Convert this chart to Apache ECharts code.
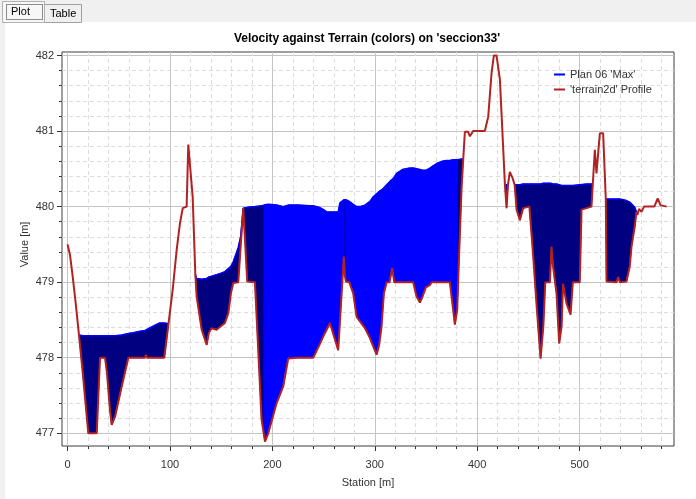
<!DOCTYPE html>
<html><head><meta charset="utf-8">
<script src="https://cdn.jsdelivr.net/npm/echarts@6/dist/echarts.min.js"></script>
<style>html,body{margin:0;padding:0;background:#fff}#c{width:696px;height:499px}</style>
</head><body><div id="c"></div>
<script>
// ---- data ----
const stations = [0,2.4,5.0,8.0,11.2,15.0,20.3,28.5,31.7,36.6,38.5,41.5,43.1,46.4,52.9,59.4,64.0,70.8,75.6,76.5,77.5,84.0,90.0,94.5,98.6,
102.7,106.6,109.8,112.5,116.3,117.9,119.6,122.2,124.8,126.1,131.0,135.9,138.0,140.7,145.6,150.0,153.7,157.0,159.5,161.8,166.7,169.0,171.6,
175.5,183.0,189.5,191.8,192.8,196.0,204.2,210.6,215.5,225.0,236.7,239.9,246.0,250.0,253.0,256.2,264.3,266.0,269.8,270.9,271.8,275.1,279.0,
282.3,285.5,290.4,295.3,298.5,301.8,304.3,306.6,308.9,311.6,314.5,317.0,319.0,321.3,327.0,334.3,337.5,340.8,344.1,346.7,349.9,353.8,355.5,
360.4,366.0,370.1,373.3,375.0,378.2,380.5,381.0,382.2,384.8,386.4,388.0,391.2,392.9,396.1,407.5,410.8,414.0,416.3,418.9,422.2,423.8,
427.1,428.7,430.1,431.9,434.5,436.6,438.5,441.7,444.9,451.0,454.7,458.0,461.9,464.6,466.5,471.0,472.6,474.2,477.5,480.1,482.4,483.9,
487.2,491.2,493.4,500.2,501.9,506.8,511.6,512.9,514.9,516.5,519.8,523.0,525.6,526.3,536.1,537.7,539.3,545.8,549.0,550.7,553.9,555.5,
556.5,558.0,560.4,563.0,573.0,576.3,579.0,585.0];

const terrain = [479.50,479.36,479.08,478.72,478.30,477.78,477.00,477.00,478.00,478.00,477.80,477.30,477.11,477.22,477.62,478.00,478.00,478.00,478.00,478.04,478.00,478.00,478.00,478.00,478.45,
478.90,479.43,479.78,479.98,480.00,480.82,480.82,480.13,479.10,478.81,478.37,478.17,478.33,478.39,478.37,478.42,478.46,478.59,478.85,478.99,479.00,479.46,479.98,
479.01,479.00,477.18,476.98,476.89,477.00,477.40,477.62,477.99,478.00,478.00,478.00,478.17,478.29,478.37,478.46,478.10,478.48,479.34,479.08,479.01,479.00,478.85,
478.54,478.48,478.39,478.26,478.15,478.04,478.17,478.41,478.85,479.00,479.00,479.19,479.00,479.00,479.00,479.00,479.00,478.81,478.73,478.81,478.93,478.96,479.00,
479.00,479.00,479.00,479.00,478.81,478.44,478.63,478.83,479.30,480.26,480.63,480.99,480.99,480.93,481.00,481.00,481.19,481.76,482.00,482.00,481.68,481.66,
480.29,479.98,480.29,480.46,480.38,480.29,479.96,479.82,479.98,480.00,479.35,478.70,477.99,478.41,479.00,479.00,479.47,479.20,478.85,478.19,478.41,478.98,
478.72,478.57,479.00,479.00,479.96,479.98,480.00,480.30,480.75,480.44,480.97,480.97,480.10,479.01,479.00,479.07,479.00,479.01,479.21,479.47,479.74,479.93,
479.89,479.97,479.93,480.00,480.00,480.11,480.02,480.00];

// water surface of Plan 06 'Max' (null = dry)
const waterSurface = [null,null,null,null,478.30,478.29,478.29,478.29,478.29,478.29,478.29,478.29,478.29,478.29,478.30,478.32,478.33,478.35,478.36,478.36,478.37,478.42,478.46,478.46,478.45,
null,null,null,null,null,null,null,null,479.10,479.05,479.04,479.05,479.07,479.08,479.10,479.12,479.14,479.18,479.21,479.27,479.46,479.60,479.98,
479.99,480.00,480.01,480.02,480.02,480.03,480.02,480.00,480.02,480.02,480.01,480.01,479.99,479.96,479.93,479.93,479.93,480.05,480.09,480.09,480.09,480.07,480.03,
480.00,480.00,480.02,480.07,480.13,480.17,480.20,480.22,480.25,480.29,480.33,480.36,480.39,480.44,480.49,480.51,480.51,480.50,480.49,480.48,480.48,480.51,480.53,
480.57,480.60,480.61,480.61,480.62,480.62,480.62,480.62,480.62,480.63,480.63,null,null,null,null,null,null,null,null,null,null,null,
480.29,480.29,480.29,null,null,480.29,480.29,480.29,480.30,480.30,480.30,480.30,480.30,480.31,480.31,480.31,480.31,480.30,480.30,480.29,480.28,480.28,
480.28,480.28,480.28,480.29,480.29,480.30,480.30,480.30,null,null,null,null,480.10,480.10,480.10,480.10,480.10,480.08,480.06,480.04,479.99,479.93,
null,null,null,null,null,null,null,null];

// station ranges where the velocity colour is the high (bright blue) class
const fastZones = [[191.8, 270.9], [271.8, 381.0]];

const seriesNames = ["Plan 06 'Max'", "'terrain2d' Profile"];
const titleText = "Velocity against Terrain (colors) on 'seccion33'";

// ---- build fill runs (contiguous wet stretches of one colour class) ----
const runs = [];
(function () {
  let cur = null;
  for (let i = 0; i < stations.length - 1; i++) {
    const a = waterSurface[i], b = waterSurface[i + 1];
    if (a == null || b == null) { cur = null; continue; }
    const mid = (stations[i] + stations[i + 1]) / 2;
    const fast = fastZones.some(z => mid > z[0] && mid < z[1]);
    if (!cur || cur.fast !== fast) { cur = { fast: fast, i0: i, i1: i + 1 }; runs.push(cur); }
    else cur.i1 = i + 1;
  }
})();

const FONT = "'Liberation Sans', Arial, sans-serif";
const chart = echarts.init(document.getElementById('c'), null, { renderer: 'canvas' });

const option = {
  animation: false,
  backgroundColor: '#ffffff',
  graphic: [
    { type: 'rect', silent: true, shape: { x: 0, y: 0, width: 696, height: 22 }, style: { fill: '#f0f0f0' } },
    { type: 'rect', silent: true, shape: { x: 0, y: 22, width: 5, height: 477 }, style: { fill: '#f0f0f0' } },
    { type: 'rect', silent: true, shape: { x: 44.5, y: 4.5, width: 37, height: 18 }, style: { fill: '#f0f0f0', stroke: '#a0a0a0', lineWidth: 1 } },
    { type: 'rect', silent: true, shape: { x: 2.5, y: 1.5, width: 42, height: 21 }, style: { fill: '#f7f7f7', stroke: '#b0b0b0', lineWidth: 1 } },
    { type: 'rect', silent: true, shape: { x: 6.5, y: 4.5, width: 36, height: 15 }, style: { fill: 'none', stroke: '#222', lineWidth: 1, lineDash: [1, 1] } },
    { type: 'text', silent: true, x: 11, y: 12, style: { text: 'Plot', font: '11px ' + FONT, fill: '#000', verticalAlign: 'middle' } },
    { type: 'text', silent: true, x: 50, y: 13.5, style: { text: 'Table', font: '11px ' + FONT, fill: '#000', verticalAlign: 'middle' } },
    { type: 'text', silent: true, x: 367, y: 39, style: { text: titleText, font: 'bold 12px ' + FONT, fill: '#000', align: 'center', verticalAlign: 'middle' } }
  ],
  legend: {
    orient: 'vertical', left: 554, top: 69, padding: 0, itemWidth: 11, itemHeight: 2, itemGap: 4, icon: 'rect',
    textStyle: { fontSize: 11, color: '#333', fontFamily: FONT },
    data: seriesNames
  },
  grid: [
    { left: 62, right: 22, top: 52, bottom: 53, show: true, borderColor: '#3c3c3c', borderWidth: 1, backgroundColor: 'rgba(0,0,0,0)', outerBoundsMode: 'none' },
    { left: 67.53, right: 34.47, top: 52, bottom: 53, outerBoundsMode: 'none' },
    { left: 67.53, right: 116.42, top: 52, bottom: 53, outerBoundsMode: 'none' },
    { left: 62, right: 22, top: 55.5, bottom: 65.7, outerBoundsMode: 'none' }
  ],
  xAxis: [
    { gridIndex: 0, type: 'value', min: -5.4, max: 592.2, name: 'Station [m]', nameLocation: 'middle', nameGap: 31, nameMoveOverlap: false,
      nameTextStyle: { fontSize: 11, color: '#333', fontFamily: FONT },
      axisLine: { show: false }, axisTick: { show: false }, axisLabel: { show: false }, splitLine: { show: false } },
    { gridIndex: 1, type: 'value', min: 0, max: 580, interval: 20,
      axisLine: { show: false }, axisTick: { show: true, length: 3, lineStyle: { color: '#333' } }, axisLabel: { show: false },
      splitLine: { show: true, lineStyle: { color: '#dcdcdc', type: [4, 3], width: 1 } } },
    { gridIndex: 2, type: 'value', min: 0, max: 500, interval: 100,
      axisLine: { show: false }, axisTick: { show: true, length: 5, lineStyle: { color: '#333' } },
      axisLabel: { show: true, margin: 13, fontSize: 11, color: '#333', fontFamily: FONT },
      splitLine: { show: true, lineStyle: { color: '#c4c4c4', width: 1 } } },
    { gridIndex: 3, type: 'value', min: 0, max: 1, show: false }
  ],
  yAxis: [
    { gridIndex: 0, type: 'value', min: 476.832, max: 482.046, show: false },
    { gridIndex: 1, type: 'value', min: 0, max: 1, show: false },
    { gridIndex: 2, type: 'value', min: 0, max: 1, show: false },
    { gridIndex: 3, type: 'value', min: 477, max: 482, interval: 1, name: 'Value [m]', nameLocation: 'middle', nameGap: 32, nameMoveOverlap: false,
      nameTextStyle: { fontSize: 11, color: '#333', fontFamily: FONT },
      axisLine: { show: false },
      axisTick: { show: true, length: 5, lineStyle: { color: '#333' } },
      minorTick: { show: true, splitNumber: 5, length: 3, lineStyle: { color: '#333' } },
      axisLabel: { show: true, margin: 8, fontSize: 11, color: '#333', fontFamily: FONT },
      splitLine: { show: true, lineStyle: { color: '#c4c4c4', width: 1 } },
      minorSplitLine: { show: true, lineStyle: { color: '#dcdcdc', type: [4, 3], width: 1 } } }
  ],
  series: [
    { type: 'custom', name: 'velocity fill', xAxisIndex: 0, yAxisIndex: 0, silent: true, z: 2,
      data: runs.map(r => [stations[r.i0], waterSurface[r.i0]]),
      renderItem: function (params, api) {
        const r = runs[params.dataIndex];
        const pts = [];
        for (let k = r.i0; k <= r.i1; k++) pts.push(api.coord([stations[k], waterSurface[k]]));
        for (let k = r.i1; k >= r.i0; k--) pts.push(api.coord([stations[k], terrain[k]]));
        const c = r.fast ? '#0000ff' : '#000080';
        return { type: 'polygon', shape: { points: pts }, style: { fill: c, stroke: c, lineWidth: 0.7 } };
      } },
    { type: 'line', name: seriesNames[0], xAxisIndex: 0, yAxisIndex: 0, z: 3, symbol: 'none', connectNulls: false,
      data: stations.map((x, i) => [x, waterSurface[i] == null ? '-' : waterSurface[i]]),
      lineStyle: { color: '#0000ff', width: 1.5 }, itemStyle: { color: '#0000ff' } },
    { type: 'line', name: seriesNames[1], xAxisIndex: 0, yAxisIndex: 0, z: 4, symbol: 'none',
      data: stations.map((x, i) => [x, terrain[i]]),
      lineStyle: { color: '#b22222', width: 2 }, itemStyle: { color: '#b22222' } }
  ]
};
chart.setOption(option);
</script>
</body></html>
